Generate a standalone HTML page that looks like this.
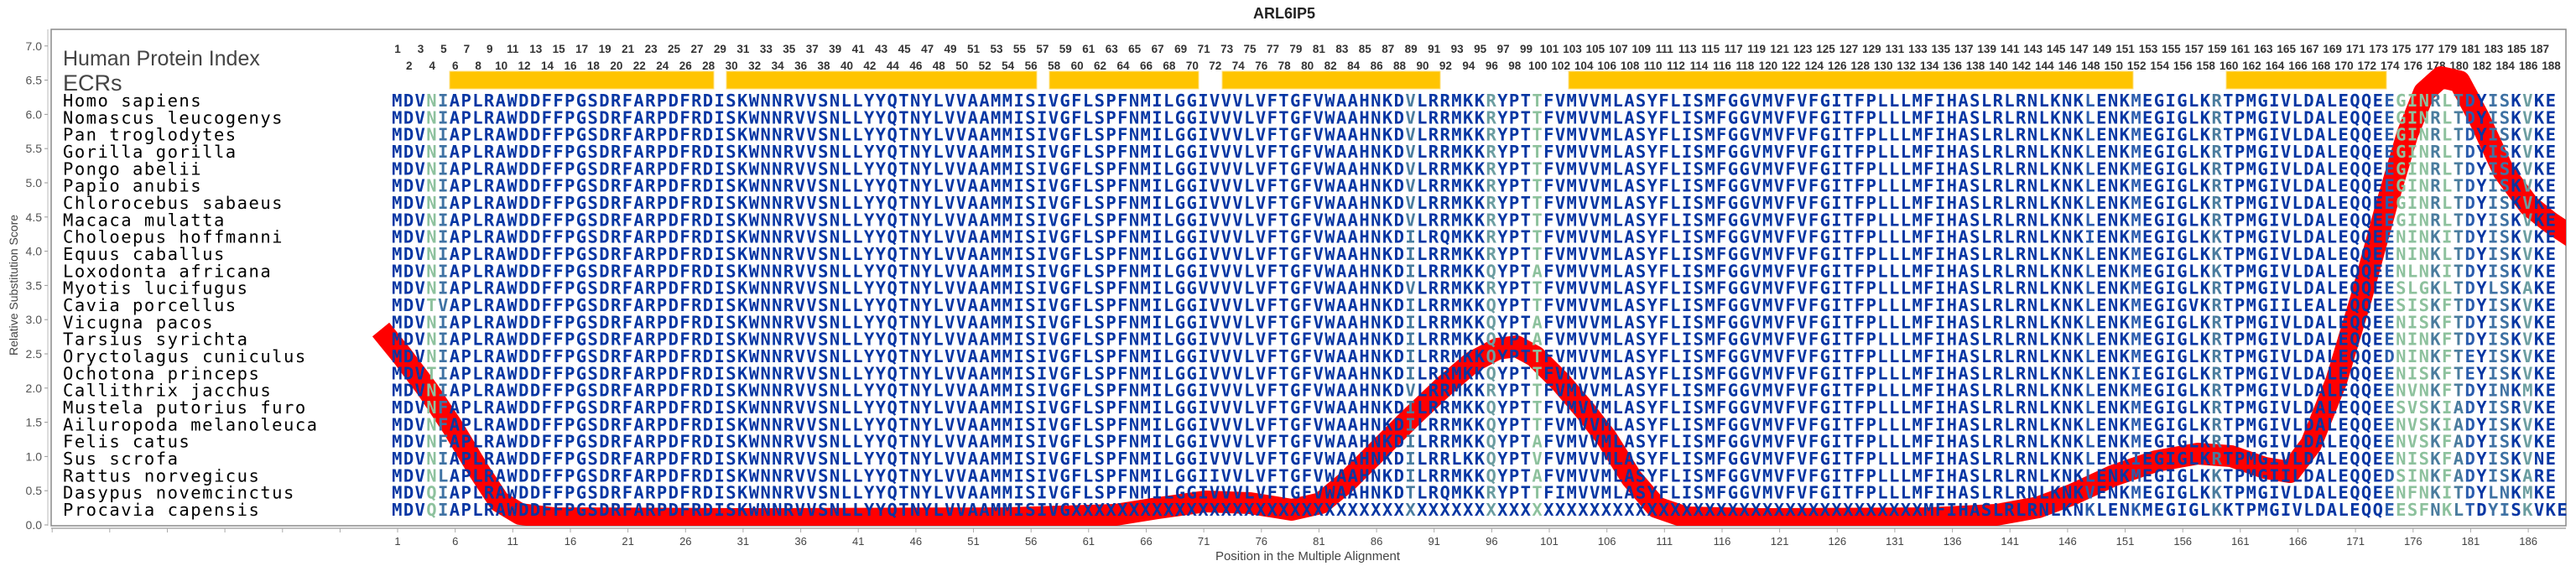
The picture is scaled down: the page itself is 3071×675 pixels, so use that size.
<!DOCTYPE html>
<html><head><meta charset="utf-8"><style>
html,body{margin:0;padding:0;background:#fff;}
svg{display:block;}
.sp{font-family:"DejaVu Sans Mono","Liberation Mono",monospace;font-size:20.5px;letter-spacing:1.5px;fill:#000;}
.sq{font-family:"DejaVu Sans Mono","Liberation Mono",monospace;font-weight:bold;font-size:20.5px;letter-spacing:1.388px;fill:url(#cg);}
.cn{font-family:"Liberation Sans",sans-serif;font-weight:bold;font-size:13.5px;fill:#333;text-anchor:middle;}
.yt{font-family:"Liberation Sans",sans-serif;font-size:14px;fill:#555;text-anchor:end;}
.xt{font-family:"Liberation Sans",sans-serif;font-size:13px;fill:#444;text-anchor:middle;}
</style></head><body>
<svg width="3071" height="675" viewBox="0 0 3071 675" xmlns="http://www.w3.org/2000/svg">
<defs>
<linearGradient id="cg" gradientUnits="userSpaceOnUse" x1="467.1" y1="0" x2="3048.3" y2="0">
<stop offset="0%" stop-color="#0636a3"/><stop offset="1.596%" stop-color="#0636a3"/>
<stop offset="1.596%" stop-color="#8dc19d"/><stop offset="2.128%" stop-color="#8dc19d"/>
<stop offset="2.128%" stop-color="#3f72a3"/><stop offset="2.660%" stop-color="#3f72a3"/>
<stop offset="2.660%" stop-color="#0636a3"/><stop offset="46.809%" stop-color="#0636a3"/>
<stop offset="46.809%" stop-color="#4a7c9e"/><stop offset="47.340%" stop-color="#4a7c9e"/>
<stop offset="47.340%" stop-color="#0636a3"/><stop offset="50.532%" stop-color="#0636a3"/>
<stop offset="50.532%" stop-color="#6b9da0"/><stop offset="51.064%" stop-color="#6b9da0"/>
<stop offset="51.064%" stop-color="#0636a3"/><stop offset="52.660%" stop-color="#0636a3"/>
<stop offset="52.660%" stop-color="#8dc19d"/><stop offset="53.191%" stop-color="#8dc19d"/>
<stop offset="53.191%" stop-color="#0636a3"/><stop offset="78.191%" stop-color="#0636a3"/>
<stop offset="78.191%" stop-color="#2a5cad"/><stop offset="78.723%" stop-color="#2a5cad"/>
<stop offset="78.723%" stop-color="#0636a3"/><stop offset="80.319%" stop-color="#0636a3"/>
<stop offset="80.319%" stop-color="#2a5cad"/><stop offset="80.851%" stop-color="#2a5cad"/>
<stop offset="80.851%" stop-color="#0636a3"/><stop offset="84.043%" stop-color="#0636a3"/>
<stop offset="84.043%" stop-color="#4a7c9e"/><stop offset="84.574%" stop-color="#4a7c9e"/>
<stop offset="84.574%" stop-color="#0636a3"/><stop offset="92.021%" stop-color="#0636a3"/>
<stop offset="92.021%" stop-color="#2a5cad"/><stop offset="92.553%" stop-color="#2a5cad"/>
<stop offset="92.553%" stop-color="#8dc19d"/><stop offset="94.149%" stop-color="#8dc19d"/>
<stop offset="94.149%" stop-color="#4a7c9e"/><stop offset="94.681%" stop-color="#4a7c9e"/>
<stop offset="94.681%" stop-color="#8dc19d"/><stop offset="95.213%" stop-color="#8dc19d"/>
<stop offset="95.213%" stop-color="#4a7c9e"/><stop offset="95.745%" stop-color="#4a7c9e"/>
<stop offset="95.745%" stop-color="#2a5cad"/><stop offset="96.277%" stop-color="#2a5cad"/>
<stop offset="96.277%" stop-color="#0636a3"/><stop offset="96.809%" stop-color="#0636a3"/>
<stop offset="96.809%" stop-color="#3f72a3"/><stop offset="97.872%" stop-color="#3f72a3"/>
<stop offset="97.872%" stop-color="#0636a3"/><stop offset="98.404%" stop-color="#0636a3"/>
<stop offset="98.404%" stop-color="#6b9da0"/><stop offset="98.936%" stop-color="#6b9da0"/>
<stop offset="98.936%" stop-color="#0636a3"/><stop offset="100%" stop-color="#0636a3"/>
</linearGradient>
<clipPath id="fr"><rect x="61" y="35" width="2998" height="592"/></clipPath>
</defs>

<text x="1531" y="22" font-family="Liberation Sans, sans-serif" font-weight="bold" font-size="18" text-anchor="middle" fill="#222">ARL6IP5</text>

<!-- frame -->
<rect x="61" y="35" width="2998" height="592" fill="none" stroke="#8a8a8a" stroke-width="1.5"/>
<line x1="57" y1="35" x2="57" y2="627" stroke="#bbb" stroke-width="1"/>

<!-- y axis -->
<g stroke="#999" stroke-width="1">
<line x1="53" y1="54.8" x2="57" y2="54.8"/><line x1="53" y1="95.6" x2="57" y2="95.6"/><line x1="53" y1="136.4" x2="57" y2="136.4"/><line x1="53" y1="177.2" x2="57" y2="177.2"/><line x1="53" y1="218" x2="57" y2="218"/><line x1="53" y1="258.8" x2="57" y2="258.8"/><line x1="53" y1="299.6" x2="57" y2="299.6"/><line x1="53" y1="340.4" x2="57" y2="340.4"/><line x1="53" y1="381.2" x2="57" y2="381.2"/><line x1="53" y1="422" x2="57" y2="422"/><line x1="53" y1="462.8" x2="57" y2="462.8"/><line x1="53" y1="503.6" x2="57" y2="503.6"/><line x1="53" y1="544.4" x2="57" y2="544.4"/><line x1="53" y1="585.2" x2="57" y2="585.2"/><line x1="53" y1="626" x2="57" y2="626"/>
</g>
<g class="yt">
<text x="50" y="59.8">7.0</text><text x="50" y="100.6">6.5</text><text x="50" y="141.4">6.0</text><text x="50" y="182.2">5.5</text><text x="50" y="223">5.0</text><text x="50" y="263.8">4.5</text><text x="50" y="304.6">4.0</text><text x="50" y="345.4">3.5</text><text x="50" y="386.2">3.0</text><text x="50" y="427">2.5</text><text x="50" y="467.8">2.0</text><text x="50" y="508.6">1.5</text><text x="50" y="549.4">1.0</text><text x="50" y="590.2">0.5</text><text x="50" y="631">0.0</text>
</g>
<text transform="translate(21,340) rotate(-90)" font-family="Liberation Sans, sans-serif" font-size="14" fill="#444" text-anchor="middle">Relative Substitution Score</text>

<!-- x axis -->
<line x1="61" y1="630" x2="3059" y2="630" stroke="#aaa" stroke-width="1.5"/>
<g stroke="#aaa" stroke-width="1">
<line x1="62.2" y1="630" x2="62.2" y2="635"/><line x1="130.8" y1="630" x2="130.8" y2="635"/><line x1="199.5" y1="630" x2="199.5" y2="635"/><line x1="268.1" y1="630" x2="268.1" y2="635"/><line x1="336.8" y1="630" x2="336.8" y2="635"/><line x1="405.4" y1="630" x2="405.4" y2="635"/>
</g>
<g class="xt">
<text x="474" y="650">1</text><text x="542.7" y="650">6</text><text x="611.3" y="650">11</text><text x="680" y="650">16</text><text x="748.6" y="650">21</text><text x="817.3" y="650">26</text><text x="885.9" y="650">31</text><text x="954.6" y="650">36</text><text x="1023.2" y="650">41</text><text x="1091.9" y="650">46</text><text x="1160.5" y="650">51</text><text x="1229.2" y="650">56</text><text x="1297.8" y="650">61</text><text x="1366.5" y="650">66</text><text x="1435.1" y="650">71</text><text x="1503.8" y="650">76</text><text x="1572.4" y="650">81</text><text x="1641.1" y="650">86</text><text x="1709.7" y="650">91</text><text x="1778.4" y="650">96</text><text x="1847" y="650">101</text><text x="1915.7" y="650">106</text><text x="1984.3" y="650">111</text><text x="2053" y="650">116</text><text x="2121.6" y="650">121</text><text x="2190.3" y="650">126</text><text x="2258.9" y="650">131</text><text x="2327.6" y="650">136</text><text x="2396.2" y="650">141</text><text x="2464.9" y="650">146</text><text x="2533.5" y="650">151</text><text x="2602.2" y="650">156</text><text x="2670.8" y="650">161</text><text x="2739.5" y="650">166</text><text x="2808.1" y="650">171</text><text x="2876.8" y="650">176</text><text x="2945.4" y="650">181</text><text x="3014.1" y="650">186</text>
</g>
<g stroke="#aaa" stroke-width="1">
<line x1="474" y1="630" x2="474" y2="635"/><line x1="542.7" y1="630" x2="542.7" y2="635"/><line x1="611.3" y1="630" x2="611.3" y2="635"/><line x1="680" y1="630" x2="680" y2="635"/><line x1="748.6" y1="630" x2="748.6" y2="635"/><line x1="817.3" y1="630" x2="817.3" y2="635"/><line x1="885.9" y1="630" x2="885.9" y2="635"/><line x1="954.6" y1="630" x2="954.6" y2="635"/><line x1="1023.2" y1="630" x2="1023.2" y2="635"/><line x1="1091.9" y1="630" x2="1091.9" y2="635"/><line x1="1160.5" y1="630" x2="1160.5" y2="635"/><line x1="1229.2" y1="630" x2="1229.2" y2="635"/><line x1="1297.8" y1="630" x2="1297.8" y2="635"/><line x1="1366.5" y1="630" x2="1366.5" y2="635"/><line x1="1435.1" y1="630" x2="1435.1" y2="635"/><line x1="1503.8" y1="630" x2="1503.8" y2="635"/><line x1="1572.4" y1="630" x2="1572.4" y2="635"/><line x1="1641.1" y1="630" x2="1641.1" y2="635"/><line x1="1709.7" y1="630" x2="1709.7" y2="635"/><line x1="1778.4" y1="630" x2="1778.4" y2="635"/><line x1="1847" y1="630" x2="1847" y2="635"/><line x1="1915.7" y1="630" x2="1915.7" y2="635"/><line x1="1984.3" y1="630" x2="1984.3" y2="635"/><line x1="2053" y1="630" x2="2053" y2="635"/><line x1="2121.6" y1="630" x2="2121.6" y2="635"/><line x1="2190.3" y1="630" x2="2190.3" y2="635"/><line x1="2258.9" y1="630" x2="2258.9" y2="635"/><line x1="2327.6" y1="630" x2="2327.6" y2="635"/><line x1="2396.2" y1="630" x2="2396.2" y2="635"/><line x1="2464.9" y1="630" x2="2464.9" y2="635"/><line x1="2533.5" y1="630" x2="2533.5" y2="635"/><line x1="2602.2" y1="630" x2="2602.2" y2="635"/><line x1="2670.8" y1="630" x2="2670.8" y2="635"/><line x1="2739.5" y1="630" x2="2739.5" y2="635"/><line x1="2808.1" y1="630" x2="2808.1" y2="635"/><line x1="2876.8" y1="630" x2="2876.8" y2="635"/><line x1="2945.4" y1="630" x2="2945.4" y2="635"/><line x1="3014.1" y1="630" x2="3014.1" y2="635"/>
</g>
<text x="1559" y="668" font-family="Liberation Sans, sans-serif" font-size="15" fill="#444" text-anchor="middle">Position in the Multiple Alignment</text>

<!-- headers -->
<text x="75" y="78" font-family="Liberation Sans, sans-serif" font-size="25" fill="#444">Human Protein Index</text>
<text x="75" y="108" font-family="Liberation Sans, sans-serif" font-size="27" fill="#444">ECRs</text>

<!-- column numbers -->
<g class="cn">
<text x="474" y="63">1</text><text x="501.5" y="63">3</text><text x="528.9" y="63">5</text><text x="556.4" y="63">7</text><text x="583.8" y="63">9</text><text x="611.3" y="63">11</text><text x="638.8" y="63">13</text><text x="666.2" y="63">15</text><text x="693.7" y="63">17</text><text x="721.1" y="63">19</text><text x="748.6" y="63">21</text><text x="776.1" y="63">23</text><text x="803.5" y="63">25</text><text x="831" y="63">27</text><text x="858.4" y="63">29</text><text x="885.9" y="63">31</text><text x="913.4" y="63">33</text><text x="940.8" y="63">35</text><text x="968.3" y="63">37</text><text x="995.7" y="63">39</text><text x="1023.2" y="63">41</text><text x="1050.7" y="63">43</text><text x="1078.1" y="63">45</text><text x="1105.6" y="63">47</text><text x="1133" y="63">49</text><text x="1160.5" y="63">51</text><text x="1188" y="63">53</text><text x="1215.4" y="63">55</text><text x="1242.9" y="63">57</text><text x="1270.3" y="63">59</text><text x="1297.8" y="63">61</text><text x="1325.3" y="63">63</text><text x="1352.7" y="63">65</text><text x="1380.2" y="63">67</text><text x="1407.6" y="63">69</text><text x="1435.1" y="63">71</text><text x="1462.6" y="63">73</text><text x="1490" y="63">75</text><text x="1517.5" y="63">77</text><text x="1544.9" y="63">79</text><text x="1572.4" y="63">81</text><text x="1599.9" y="63">83</text><text x="1627.3" y="63">85</text><text x="1654.8" y="63">87</text><text x="1682.2" y="63">89</text><text x="1709.7" y="63">91</text><text x="1737.2" y="63">93</text><text x="1764.6" y="63">95</text><text x="1792.1" y="63">97</text><text x="1819.5" y="63">99</text><text x="1847" y="63">101</text><text x="1874.5" y="63">103</text><text x="1901.9" y="63">105</text><text x="1929.4" y="63">107</text><text x="1956.8" y="63">109</text><text x="1984.3" y="63">111</text><text x="2011.8" y="63">113</text><text x="2039.2" y="63">115</text><text x="2066.7" y="63">117</text><text x="2094.1" y="63">119</text><text x="2121.6" y="63">121</text><text x="2149.1" y="63">123</text><text x="2176.5" y="63">125</text><text x="2204" y="63">127</text><text x="2231.4" y="63">129</text><text x="2258.9" y="63">131</text><text x="2286.4" y="63">133</text><text x="2313.8" y="63">135</text><text x="2341.3" y="63">137</text><text x="2368.7" y="63">139</text><text x="2396.2" y="63">141</text><text x="2423.7" y="63">143</text><text x="2451.1" y="63">145</text><text x="2478.6" y="63">147</text><text x="2506" y="63">149</text><text x="2533.5" y="63">151</text><text x="2561" y="63">153</text><text x="2588.4" y="63">155</text><text x="2615.9" y="63">157</text><text x="2643.3" y="63">159</text><text x="2670.8" y="63">161</text><text x="2698.3" y="63">163</text><text x="2725.7" y="63">165</text><text x="2753.2" y="63">167</text><text x="2780.6" y="63">169</text><text x="2808.1" y="63">171</text><text x="2835.6" y="63">173</text><text x="2863" y="63">175</text><text x="2890.5" y="63">177</text><text x="2917.9" y="63">179</text><text x="2945.4" y="63">181</text><text x="2972.9" y="63">183</text><text x="3000.3" y="63">185</text><text x="3027.8" y="63">187</text>
<text x="487.7" y="83">2</text><text x="515.2" y="83">4</text><text x="542.7" y="83">6</text><text x="570.1" y="83">8</text><text x="597.6" y="83">10</text><text x="625" y="83">12</text><text x="652.5" y="83">14</text><text x="680" y="83">16</text><text x="707.4" y="83">18</text><text x="734.9" y="83">20</text><text x="762.3" y="83">22</text><text x="789.8" y="83">24</text><text x="817.3" y="83">26</text><text x="844.7" y="83">28</text><text x="872.2" y="83">30</text><text x="899.6" y="83">32</text><text x="927.1" y="83">34</text><text x="954.6" y="83">36</text><text x="982" y="83">38</text><text x="1009.5" y="83">40</text><text x="1036.9" y="83">42</text><text x="1064.4" y="83">44</text><text x="1091.9" y="83">46</text><text x="1119.3" y="83">48</text><text x="1146.8" y="83">50</text><text x="1174.2" y="83">52</text><text x="1201.7" y="83">54</text><text x="1229.2" y="83">56</text><text x="1256.6" y="83">58</text><text x="1284.1" y="83">60</text><text x="1311.5" y="83">62</text><text x="1339" y="83">64</text><text x="1366.5" y="83">66</text><text x="1393.9" y="83">68</text><text x="1421.4" y="83">70</text><text x="1448.8" y="83">72</text><text x="1476.3" y="83">74</text><text x="1503.8" y="83">76</text><text x="1531.2" y="83">78</text><text x="1558.7" y="83">80</text><text x="1586.1" y="83">82</text><text x="1613.6" y="83">84</text><text x="1641.1" y="83">86</text><text x="1668.5" y="83">88</text><text x="1696" y="83">90</text><text x="1723.4" y="83">92</text><text x="1750.9" y="83">94</text><text x="1778.4" y="83">96</text><text x="1805.8" y="83">98</text><text x="1833.3" y="83">100</text><text x="1860.7" y="83">102</text><text x="1888.2" y="83">104</text><text x="1915.7" y="83">106</text><text x="1943.1" y="83">108</text><text x="1970.6" y="83">110</text><text x="1998" y="83">112</text><text x="2025.5" y="83">114</text><text x="2053" y="83">116</text><text x="2080.4" y="83">118</text><text x="2107.9" y="83">120</text><text x="2135.3" y="83">122</text><text x="2162.8" y="83">124</text><text x="2190.3" y="83">126</text><text x="2217.7" y="83">128</text><text x="2245.2" y="83">130</text><text x="2272.6" y="83">132</text><text x="2300.1" y="83">134</text><text x="2327.6" y="83">136</text><text x="2355" y="83">138</text><text x="2382.5" y="83">140</text><text x="2409.9" y="83">142</text><text x="2437.4" y="83">144</text><text x="2464.9" y="83">146</text><text x="2492.3" y="83">148</text><text x="2519.8" y="83">150</text><text x="2547.2" y="83">152</text><text x="2574.7" y="83">154</text><text x="2602.2" y="83">156</text><text x="2629.6" y="83">158</text><text x="2657.1" y="83">160</text><text x="2684.5" y="83">162</text><text x="2712" y="83">164</text><text x="2739.5" y="83">166</text><text x="2766.9" y="83">168</text><text x="2794.4" y="83">170</text><text x="2821.8" y="83">172</text><text x="2849.3" y="83">174</text><text x="2876.8" y="83">176</text><text x="2904.2" y="83">178</text><text x="2931.7" y="83">180</text><text x="2959.1" y="83">182</text><text x="2986.6" y="83">184</text><text x="3014.1" y="83">186</text><text x="3041.5" y="83">188</text>
</g>

<!-- ECR bars -->
<g fill="#ffc400" stroke="#ffe080" stroke-width="1">
<rect x="536" y="85" width="315" height="21"/>
<rect x="866" y="85" width="370" height="21"/>
<rect x="1251" y="85" width="178" height="21"/>
<rect x="1457" y="85" width="260" height="21"/>
<rect x="1870" y="85" width="673" height="21"/>
<rect x="2654" y="85" width="191" height="21"/>
</g>

<!-- red curve -->
<g clip-path="url(#fr)">
<polyline fill="none" stroke="#ff0000" stroke-width="26" stroke-linejoin="round" points="454,393 480,425 510,465 540,510 570,560 595,598 620,613 660,618 900,619 1200,618 1330,614 1380,606 1437,598 1490,600 1540,608 1575,600 1605,575 1640,540 1680,500 1720,462 1755,432 1785,416 1808,413 1830,425 1860,455 1890,490 1915,522 1945,570 1975,605 2010,617 2100,619 2300,618 2380,614 2430,605 2470,590 2520,567 2570,550 2620,541 2660,544 2700,558 2730,563 2755,530 2785,455 2815,355 2845,245 2870,160 2890,110 2910,92 2932,97 2955,140 2985,205 3015,245 3040,265 3070,285"/>
</g>

<!-- species -->
<g class="sp">
<text x="75" y="127">Homo sapiens</text>
<text x="75" y="147.3">Nomascus leucogenys</text>
<text x="75" y="167.7">Pan troglodytes</text>
<text x="75" y="188">Gorilla gorilla</text>
<text x="75" y="208.3">Pongo abelii</text>
<text x="75" y="228.7">Papio anubis</text>
<text x="75" y="249">Chlorocebus sabaeus</text>
<text x="75" y="269.3">Macaca mulatta</text>
<text x="75" y="289.7">Choloepus hoffmanni</text>
<text x="75" y="310">Equus caballus</text>
<text x="75" y="330.3">Loxodonta africana</text>
<text x="75" y="350.7">Myotis lucifugus</text>
<text x="75" y="371">Cavia porcellus</text>
<text x="75" y="391.3">Vicugna pacos</text>
<text x="75" y="411.7">Tarsius syrichta</text>
<text x="75" y="432">Oryctolagus cuniculus</text>
<text x="75" y="452.3">Ochotona princeps</text>
<text x="75" y="472.7">Callithrix jacchus</text>
<text x="75" y="493">Mustela putorius furo</text>
<text x="75" y="513.3">Ailuropoda melanoleuca</text>
<text x="75" y="533.7">Felis catus</text>
<text x="75" y="554">Sus scrofa</text>
<text x="75" y="574.3">Rattus norvegicus</text>
<text x="75" y="594.7">Dasypus novemcinctus</text>
<text x="75" y="615">Procavia capensis</text>
</g>

<!-- sequences -->
<g class="sq">
<text x="467.1" y="127">MDVNIAPLRAWDDFFPGSDRFARPDFRDISKWNNRVVSNLLYYQTNYLVVAAMMISIVGFLSPFNMILGGIVVVLVFTGFVWAAHNKDVLRRMKKRYPTTFVMVVMLASYFLISMFGGVMVFVFGITFPLLLMFIHASLRLRNLKNKLENKMEGIGLKRTPMGIVLDALEQQEEGINRLTDYISKVKE</text>
<text x="467.1" y="147.3">MDVNIAPLRAWDDFFPGSDRFARPDFRDISKWNNRVVSNLLYYQTNYLVVAAMMISIVGFLSPFNMILGGIVVVLVFTGFVWAAHNKDVLRRMKKRYPTTFVMVVMLASYFLISMFGGVMVFVFGITFPLLLMFIHASLRLRNLKNKLENKMEGIGLKRTPMGIVLDALEQQEEGINRLTDYISKVKE</text>
<text x="467.1" y="167.7">MDVNIAPLRAWDDFFPGSDRFARPDFRDISKWNNRVVSNLLYYQTNYLVVAAMMISIVGFLSPFNMILGGIVVVLVFTGFVWAAHNKDVLRRMKKRYPTTFVMVVMLASYFLISMFGGVMVFVFGITFPLLLMFIHASLRLRNLKNKLENKMEGIGLKRTPMGIVLDALEQQEEGINRLTDYISKVKE</text>
<text x="467.1" y="188">MDVNIAPLRAWDDFFPGSDRFARPDFRDISKWNNRVVSNLLYYQTNYLVVAAMMISIVGFLSPFNMILGGIVVVLVFTGFVWAAHNKDVLRRMKKRYPTTFVMVVMLASYFLISMFGGVMVFVFGITFPLLLMFIHASLRLRNLKNKLENKMEGIGLKRTPMGIVLDALEQQEEGINRLTDYISKVKE</text>
<text x="467.1" y="208.3">MDVNIAPLRAWDDFFPGSDRFARPDFRDISKWNNRVVSNLLYYQTNYLVVAAMMISIVGFLSPFNMILGGIVVVLVFTGFVWAAHNKDVLRRMKKRYPTTFVMVVMLASYFLISMFGGVMVFVFGITFPLLLMFIHASLRLRNLKNKLENKMEGIGLKRTPMGIVLDALEQQEEGINRLTDYISKVKE</text>
<text x="467.1" y="228.7">MDVNIAPLRAWDDFFPGSDRFARPDFRDISKWNNRVVSNLLYYQTNYLVVAAMMISIVGFLSPFNMILGGIVVVLVFTGFVWAAHNKDVLRRMKKRYPTTFVMVVMLASYFLISMFGGVMVFVFGITFPLLLMFIHASLRLRNLKNKLENKMEGIGLKRTPMGIVLDALEQQEEGINRLTDYISKVKE</text>
<text x="467.1" y="249">MDVNIAPLRAWDDFFPGSDRFARPDFRDISKWNNRVVSNLLYYQTNYLVVAAMMISIVGFLSPFNMILGGIVVVLVFTGFVWAAHNKDVLRRMKKRYPTTFVMVVMLASYFLISMFGGVMVFVFGITFPLLLMFIHASLRLRNLKNKLENKMEGIGLKRTPMGIVLDALEQQEEGINRLTDYISKVKE</text>
<text x="467.1" y="269.3">MDVNIAPLRAWDDFFPGSDRFARPDFRDISKWNNRVVSNLLYYQTNYLVVAAMMISIVGFLSPFNMILGGIVVVLVFTGFVWAAHNKDVLRRMKKRYPTTFVMVVMLASYFLISMFGGVMVFVFGITFPLLLMFIHASLRLRNLKNKLENKMEGIGLKRTPMGIVLDALEQQEEGINRLTDYISKVKE</text>
<text x="467.1" y="289.7">MDVNIAPLRAWDDFFPGSDRFARPDFRDISKWNNRVVSNLLYYQTNYLVVAAMMISIVGFLSPFNMILGGIVVVLVFTGFVWAAHNKDILRQMKKRYPTTFVMVVMLASYFLISMFGGVMVFVFGITFPLLLMFIHASLRLRNLKNKIENKMEGIGLKKTPMGIVLDALEQQEENINKITDYISKVKE</text>
<text x="467.1" y="310">MDVNIAPLRAWDDFFPGSDRFARPDFRDISKWNNRVVSNLLYYQTNYLVVAAMMISIVGFLSPFNMILGGIVVVLVFTGFVWAAHNKDILRRMKKRYPTTFVMVVMLASYFLISMFGGVMVFVFGITFPLLLMFIHASLRLRNLKNKLENKMEGIGLKKTPMGIVLDALEQQEENINKLTDYISKVKE</text>
<text x="467.1" y="330.3">MDVNIAPLRAWDDFFPGSDRFARPDFRDISKWNNRVVSNLLYYQTNYLVVAAMMISIVGFLSPFNMILGGIVVVLVFTGFVWAAHNKDILRRMKKQYPTAFVMVVMLASYFLISMFGGVMVFVFGITFPLLLMFIHASLRLRNLKNKLENKMEGIGLKKTPMGIVLDALEQQEENLNKITDYISKVKE</text>
<text x="467.1" y="350.7">MDVNIAPLRAWDDFFPGSDRFARPDFRDISKWNNRVVSNLLYYQTNYLVVAAMMISIVGFLSPFNMILGGVVVVLVFTGFVWAAHNKDVLRRMKKRYPTTFVMVVMLASYFLISMFGGVMVFVFGITFPLLLMFIHASLRLRNLKNKLENKMEGIGLKRTPMGIVLDALEQQEESLGKLTDYLSKAKE</text>
<text x="467.1" y="371">MDVTVAPLRAWDDFFPGSDRFARPDFRDISKWNNRVVSNLLYYQTNYLVVAAMMISIVGFLSPFNMILGGIVVVLVFTGFVWAAHNKDILRRMKKQYPTTFVMVVMLASYFLISMFGGVMVFVFGITFPLLLMFIHASLRLRNLKNKLENKMEGIGVKRTPMGIILEALEQQEESISKFTDYISKVKE</text>
<text x="467.1" y="391.3">MDVNIAPLRAWDDFFPGSDRFARPDFRDISKWNNRVVSNLLYYQTNYLVVAAMMISIVGFLSPFNMILGGIVVVLVFTGFVWAAHNKDILRRMKKQYPTAFVMVVMLASYFLISMFGGVMVFVFGITFPLLLMFIHASLRLRNLKNKLENKMEGIGLKRTPMGIVLDALEQQEENISKFTDYISKVKE</text>
<text x="467.1" y="411.7">MDVNIAPLRAWDDFFPGSDRFARPDFRDISKWNNRVVSNLLYYQTNYLVVAAMMISIVGFLSPFNMILGGIVVVLVFTGFVWAAHNKDILRRMKKQYPTAFVMVVMLASYFLISMFGGVMVFVFGITFPLLLMFIHASLRLRNLKNKLENKMEGIGLKRTPMGIVLDALEQQEENINKFTDYISKVKE</text>
<text x="467.1" y="432">MDVNIAPLRAWDDFFPGSDRFARPDFRDISKWNNRVVSNLLYYQTNYLVVAAMMISIVGFLSPFNMILGGIVVVLVFTGFVWAAHNKDILRRMKKQYPTTFVMVVMLASYFLISMFGGVMVFVFGITFPLLLMFIHASLRLRNLKNKLENKMEGIGLKRTPMGIVLDALEQQEDNINKFTEYISKVKE</text>
<text x="467.1" y="452.3">MDVTIAPLRAWDDFFPGSDRFARPDFRDISKWNNRVVSNLLYYQTNYLVVAAMMISIVGFLSPFNMILGGIVVVLVFTGFVWAAHNKDILRRMKKQYPTTFVMVVMLASYFLISMFGGVMVFVFGITFPLLLMFIHASLRLRNLKNKLENKIEGIGLKRTPMGIVLDALEQQEENISKFTEYISKVKE</text>
<text x="467.1" y="472.7">MDVNIAPLRAWDDFFPGSDRFARPDFRDISKWNNRVVSNLLYYQTNYLVVAAMMISIVGFLSPFNMILGGIVVVLVFTGFVWAAHNKDVLRRMKKRYPTTFVMVVMLASYFLISMFGGVMVFVFGITFPLLLMFIHASLRLRNLKNKLENKMEGIGLKRTPMGIVLDALEQQEENVNKFTDYINKMKE</text>
<text x="467.1" y="493">MDVNFAPLRAWDDFFPGSDRFARPDFRDISKWNNRVVSNLLYYQTNYLVVAAMMISIVGFLSPFNMILGGIVVVLVFTGFVWAAHNKDILRRMKKQYPTTFVMVVMLASYFLISMFGGVMVFVFGITFPLLLMFIHASLRLRNLKNKLENKMEGIGLKRTPMGIVLDALEQQEESVSKIADYISRVKE</text>
<text x="467.1" y="513.3">MDVNFAPLRAWDDFFPGSDRFARPDFRDISKWNNRVVSNLLYYQTNYLVVAAMMISIVGFLSPFNMILGGIVVVLVFTGFVWAAHNKDILRRMKKQYPTTFVMVVMLASYFLISMFGGVMVFVFGITFPLLLMFIHASLRLRNLKNKLENKMEGIGLKRTPMGIVLDALEQQEENVSKIADYISKVKE</text>
<text x="467.1" y="533.7">MDVNFAPLRAWDDFFPGSDRFARPDFRDISKWNNRVVSNLLYYQTNYLVVAAMMISIVGFLSPFNMILGGIVVVLVFTGFVWAAHNKDILRRMKKQYPTAFVMVVMLASYFLISMFGGVMVFVFGITFPLLLMFIHASLRLRNLKNKLENKMEGIGLKRTPMGIVLDALEQQEENVSKFADYISKVKE</text>
<text x="467.1" y="554">MDVNIAPLRAWDDFFPGSDRFARPDFRDISKWNNRVVSNLLYYQTNYLVVAAMMISIVGFLSPFNMILGGIVVVLVFTGFVWAAHNKDILRRLKKQYPTVFVMVVMLASYFLISMFGGVMVFVFGITFPLLLMFIHASLRLRNLKNKLENKIEGIGLKRTPMGIVLDALEQQEENISKFADYISKVNE</text>
<text x="467.1" y="574.3">MDVNLAPLRAWDDFFPGSDRFARPDFRDISKWNNRVVSNLLYYQTNYLVVAAMMISIVGFLSPFNMILGGIIVVLVFTGFVWAAHNKDILRRMKKQYPTAFVMVVMLASYFLISMFGGVMVFVFGITFPLLLMFIHASLRLRNLKNKLENKMEGIGLKKTPMGIILDALEQQEDSINKFADYISKARE</text>
<text x="467.1" y="594.7">MDVQIAPLRAWDDFFPGSDRFARPDFRDISKWNNRVVSNLLYYQTNYLVVAAMMISIVGFLSPFNMILGGIVVVLVFTGFVWAAHNKDTLRQMKKRYPTTFIMVVMLASYFLISMFGGVMVFVFGITFPLLLMFIHASLRLRNLKNKVENKMEGIGLKKTPMGIVLDALEQQEENFNKITDYLNKMKE</text>
<text x="467.1" y="615">MDVQIAPLRAWDDFFPGSDRFARPDFRDISKWNNRVVSNLLYYQTNYLVVAAMMISIVGXXXXXXXXXXXXXXXXXXXXXXXXXXXXXXXXXXXXXXXXXXXXXXXXXXXXXXXXXXXXXXXXXXXXXXXXXXMFIHASLRLRNLKNKLENKMEGIGLKKTPMGIVLDALEQQEESFNKLTDYISKVKE</text>
</g>
</svg>
</body></html>
